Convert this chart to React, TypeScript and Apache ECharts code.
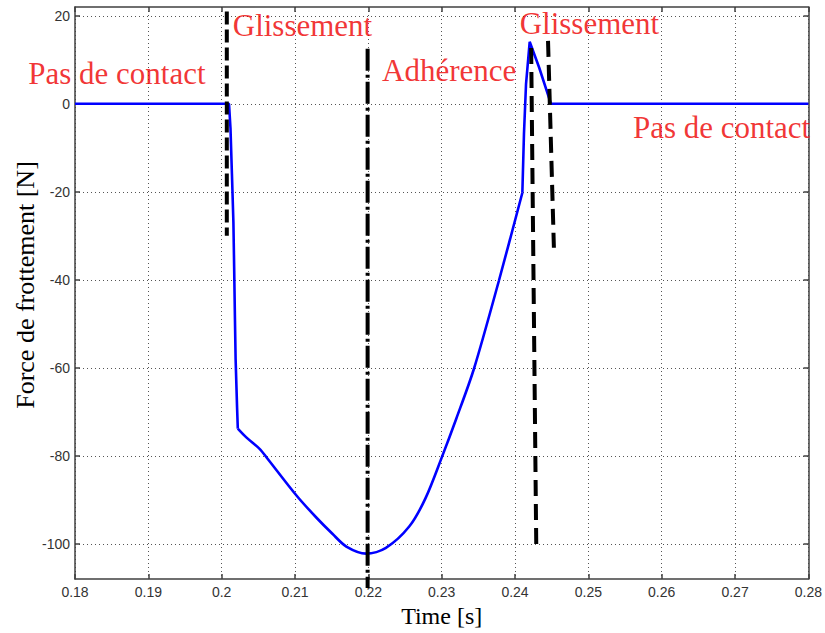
import React, { useEffect, useRef } from "react";
import * as echarts from "echarts";

// Tick values
const yTicks = [20, 0, -20, -40, -60, -80, -100];

// Friction force curve (time in s, force in N)
const timeS = [
  0.18, 0.201, 0.2012, 0.2014, 0.2016, 0.2017, 0.2018, 0.2019, 0.2021, 0.2022,
  0.20336, 0.20517, 0.2061, 0.2102, 0.2129, 0.2151, 0.217, 0.2197, 0.2224,
  0.2256, 0.2278, 0.23, 0.232, 0.2344, 0.2378, 0.241, 0.24122, 0.2415, 0.242,
  0.2433, 0.2449, 0.28,
];
const forceN = [
  0, 0, -5.5, -16, -27, -37, -48, -58, -69, -73.8,
  -75.8, -78.4, -80.3, -89.0, -94.0, -97.7, -100.6, -102.2, -100.9,
  -96.0, -89.6, -80.4, -71.5, -60.2, -40.2, -20.2, -6.8, 4.5, 14.1,
  8.2, 0, 0,
];
// The smooth adhesion/sliding bowl spans these indices of the curve
const bowlStart = 9;
const bowlEnd = 25;

// Phase separators (start/end points)
const sep1Time = [0.2007, 0.2007];
const sep1Force = [21, -30];
const sep2Time = [0.2199, 0.2199];
const sep2Force = [12.5, -110];
const sep3Time = [0.2422, 0.2429];
const sep3Force = [12.7, -101];
const sep4Time = [0.2445, 0.2453];
const sep4Force = [14.3, -32.7];

// Phase annotations (centre positions)
const phaseTexts = ["Pas de contact", "Glissement", "Adhérence", "Glissement", "Pas de contact"];
const phaseTimes = [0.18571, 0.21102, 0.23102, 0.25014, 0.26816];
const phaseForces = [7.0, 17.7, 7.5, 18.2, -5.4];

const zip = (a: number[], b: number[]) => a.map((v, i) => [v, b[i]]);

const axisColor = "#404040";

export default function App() {
  const ref = useRef<HTMLDivElement>(null);
  useEffect(() => {
    if (!ref.current) return;
    const chart = echarts.init(ref.current, null, { renderer: "svg" });
    const curve = zip(timeS, forceN);
    const curveStyle = {
      type: "line",
      symbol: "none",
      z: 3,
      silent: true,
      lineStyle: { color: "#0000ff", width: 2.6 },
    };
    const sepStyle = (type: any) => ({
      type: "line",
      symbol: "none",
      clip: false,
      silent: true,
      z: 5,
      lineStyle: { color: "#000", width: 4, type },
    });
    chart.setOption({
      animation: false,
      backgroundColor: "#ffffff",
      grid: { left: 75, right: 15, top: 7, bottom: 53, containLabel: false },
      xAxis: [
        {
          type: "value",
          min: 0.18,
          max: 0.28,
          interval: 0.01,
          position: "bottom",
          name: "Time [s]",
          nameLocation: "middle",
          nameGap: 17,
          nameTextStyle: { fontFamily: "Liberation Serif", fontSize: 24, color: "#000" },
          axisLine: { show: true, onZero: false, lineStyle: { color: axisColor, width: 1.5 } },
          axisTick: { show: true, inside: true, length: 5, lineStyle: { color: axisColor, width: 1.5 } },
          axisLabel: { margin: 6, fontFamily: "Liberation Sans", fontSize: 14, color: "#333" },
          splitLine: { show: true, lineStyle: { color: "#555", type: [1, 3], width: 1 } },
        },
        {
          type: "value",
          min: 0.18,
          max: 0.28,
          interval: 0.01,
          position: "top",
          axisLine: { show: true, onZero: false, lineStyle: { color: axisColor, width: 1.5 } },
          axisTick: { show: true, inside: true, length: 5, lineStyle: { color: axisColor, width: 1.5 } },
          axisLabel: { show: false },
          splitLine: { show: false },
        },
      ],
      yAxis: [
        {
          type: "value",
          min: -108,
          max: 22,
          position: "left",
          axisLine: { show: true, onZero: false, lineStyle: { color: axisColor, width: 1.5 } },
          axisTick: {
            show: true,
            inside: true,
            length: 5,
            customValues: yTicks,
            lineStyle: { color: axisColor, width: 1.5 },
          },
          axisLabel: {
            margin: 5,
            customValues: yTicks,
            fontFamily: "Liberation Sans",
            fontSize: 14,
            color: "#333",
          },
          splitLine: { show: true, lineStyle: { color: "#555", type: [1, 3], width: 1 } },
        },
        {
          type: "value",
          min: -108,
          max: 22,
          position: "right",
          axisLine: { show: true, onZero: false, lineStyle: { color: axisColor, width: 1.5 } },
          axisTick: {
            show: true,
            inside: true,
            length: 5,
            customValues: yTicks,
            lineStyle: { color: axisColor, width: 1.5 },
          },
          axisLabel: { show: false, customValues: yTicks },
          splitLine: { show: false },
        },
      ],
      series: [
        { ...curveStyle, name: "Force", data: curve.slice(0, bowlStart + 1) },
        {
          ...curveStyle,
          name: "Force",
          smooth: 0.3,
          data: curve.slice(bowlStart, bowlEnd + 1),
        },
        { ...curveStyle, name: "Force", data: curve.slice(bowlEnd) },
        { ...sepStyle([13, 5]), data: zip(sep1Time, sep1Force) },
        { ...sepStyle([22, 4, 3, 4]), data: zip(sep2Time, sep2Force) },
        { ...sepStyle([16, 8]), data: zip(sep3Time, sep3Force) },
        { ...sepStyle([16, 8]), data: zip(sep4Time, sep4Force) },
        {
          type: "scatter",
          symbolSize: 0,
          silent: true,
          z: 10,
          data: phaseTimes.map((t, i) => ({ value: [t, phaseForces[i]], name: phaseTexts[i] })),
          label: {
            show: true,
            position: "inside",
            formatter: "{b}",
            fontFamily: "Liberation Serif",
            fontSize: 31,
            color: "#ee0000",
          },
        },
      ],
      graphic: [
        {
          type: "text",
          x: 25,
          y: 285,
          rotation: Math.PI / 2,
          style: {
            text: "Force de frottement [N]",
            fontFamily: "Liberation Serif",
            fontSize: 26,
            fill: "#000",
            align: "center",
            verticalAlign: "middle",
          },
        },
      ],
    });
    return () => chart.dispose();
  }, []);
  return (
    <div
      ref={ref}
      style={{ position: "fixed", left: 0, top: 0, width: 825, height: 633, background: "#fff" }}
    />
  );
}
